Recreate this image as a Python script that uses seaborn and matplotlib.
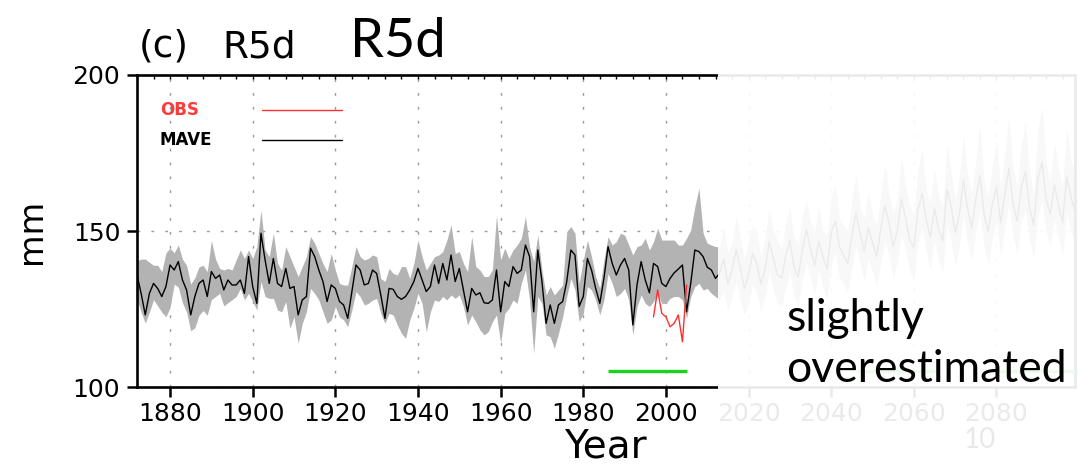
import numpy as np
import pandas as pd
import matplotlib
matplotlib.use("Agg")
import matplotlib.pyplot as plt
import matplotlib.transforms as mtransforms
from matplotlib.patches import Rectangle
from matplotlib.lines import Line2D
from matplotlib.ticker import MultipleLocator
import seaborn as sns

# ---------------------------------------------------------------- data
# Multi-model ensemble average (MAVE) of R5d [mm], 1872-2012, with ensemble range
hist_start = 1872
mave_hist = [
    135.9, 130.0, 123.1, 130.0, 133.2, 131.6, 129.0, 132.2, 139.1, 137.5,
    140.2, 134.3, 131.1, 123.1, 129.0, 133.2, 134.3, 129.0, 137.0, 134.8,
    135.9, 131.1, 134.3, 132.7, 132.7, 134.3, 130.0, 141.8, 132.2, 126.8,
    149.3, 140.7, 133.2, 141.2, 133.2, 132.2, 138.0, 131.6, 132.2, 123.1,
    127.9, 129.0, 144.5, 141.8, 137.5, 133.8, 127.4, 132.7, 131.6, 127.4,
    126.3, 122.0, 130.6, 139.1, 137.5, 132.7, 133.2, 137.5, 136.4, 129.5,
    122.0, 131.6, 131.3, 129.0, 128.1, 129.0, 131.1, 133.8, 138.0, 134.3,
    130.6, 132.2, 139.1, 133.2, 139.6, 134.3, 142.3, 133.8, 138.0, 131.1,
    124.1, 131.6, 129.5, 130.2, 127.0, 126.8, 127.9, 137.5, 124.1, 133.8,
    132.2, 138.6, 136.4, 137.5, 145.5, 141.8, 124.1, 143.9, 133.8, 120.4,
    126.3, 120.4, 126.3, 127.4, 133.8, 143.9, 142.3, 125.8, 129.0, 141.2,
    137.5, 131.6, 126.8, 134.8, 145.0, 139.6, 135.9, 139.1, 141.2, 137.5,
    119.9, 132.7, 140.2, 134.3, 130.2, 139.6, 138.6, 133.2, 132.2, 134.8,
    136.6, 137.8, 139.1, 124.1, 133.2, 143.9, 143.4, 141.8, 138.4, 137.5,
    134.8,
]
hi_hist = [
    140.5, 141.0, 141.0, 140.0, 139.0, 139.0, 137.0, 143.0, 144.5, 143.0,
    145.5, 141.0, 139.0, 133.0, 135.0, 138.5, 139.0, 137.0, 147.0, 141.0,
    138.0, 137.5, 138.0, 137.5, 140.7, 143.9, 141.2, 143.9, 141.2, 145.0,
    156.7, 143.9, 141.8, 149.3, 139.6, 137.5, 145.0, 141.8, 138.6, 135.4,
    138.6, 141.8, 148.2, 146.1, 142.8, 139.6, 137.0, 142.8, 137.5, 133.2,
    132.7, 132.7, 138.6, 145.0, 141.8, 140.7, 141.2, 142.3, 141.8, 134.8,
    133.8, 138.0, 136.4, 135.9, 138.6, 138.6, 134.8, 139.6, 147.1, 141.8,
    137.5, 139.6, 141.8, 142.3, 143.4, 147.1, 152.0, 142.8, 143.4, 139.6,
    137.0, 148.2, 138.6, 137.5, 135.4, 135.4, 137.5, 155.1, 140.7, 144.5,
    141.2, 143.9, 145.5, 147.7, 154.6, 145.0, 140.2, 148.7, 137.5, 129.5,
    132.2, 129.5, 131.1, 132.7, 149.8, 151.4, 149.3, 133.2, 140.7, 147.1,
    141.8, 135.4, 131.6, 140.7, 148.2, 145.5, 146.6, 149.3, 148.7, 145.5,
    142.3, 145.0, 145.5, 147.7, 143.9, 146.6, 150.9, 147.1, 147.1, 147.1,
    147.1, 145.5, 145.5, 147.7, 150.3, 157.8, 163.7, 149.3, 146.1, 145.5,
    145.0,
]
lo_hist = [
    128.0, 124.0, 120.5, 124.0, 128.0, 126.0, 124.0, 122.5, 125.5, 133.0,
    132.0, 127.0, 124.0, 118.0, 119.0, 123.0, 124.5, 123.0, 128.0, 129.0,
    130.0, 126.0, 127.0, 128.0, 129.0, 131.6, 127.9, 130.0, 127.4, 124.7,
    133.8, 129.0, 128.4, 128.4, 124.7, 124.1, 127.4, 118.8, 122.5, 114.0,
    120.4, 124.1, 131.6, 130.0, 127.9, 124.1, 120.4, 121.5, 125.8, 122.5,
    121.5, 119.3, 124.7, 130.6, 129.0, 126.3, 126.8, 127.9, 128.4, 123.6,
    120.4, 123.6, 123.1, 119.9, 117.2, 115.6, 121.5, 125.2, 130.0, 126.8,
    117.7, 124.1, 127.9, 127.4, 129.0, 127.9, 129.5, 128.4, 129.5, 125.8,
    119.9, 123.1, 120.9, 118.3, 116.7, 117.7, 120.9, 123.1, 114.0, 123.6,
    125.2, 127.9, 126.8, 133.2, 137.5, 127.9, 110.8, 129.0, 126.8, 116.7,
    116.1, 112.4, 117.2, 122.5, 129.0, 134.8, 131.1, 121.0, 123.6, 132.2,
    131.1, 127.9, 123.1, 127.9, 136.4, 133.2, 129.0, 130.0, 131.6, 127.9,
    116.7, 125.8, 129.5, 126.8, 125.8, 127.4, 130.0, 126.8, 126.8, 128.4,
    129.0, 129.0, 127.9, 122.0, 129.0, 132.2, 133.2, 131.1, 131.6, 130.0,
    129.0,
]

# Projection 2013-2099 (shown greyed out)
mave_proj = [
    136.5, 141.0, 133.0, 137.5, 144.0, 138.2, 131.5, 136.0, 142.8, 139.5,
    133.0, 137.8, 146.5, 141.2, 136.0, 134.8, 142.1, 147.0, 138.3, 135.2,
    143.8, 150.5, 144.2, 139.0, 146.8, 141.5, 137.9, 149.6, 153.2, 145.0,
    142.1, 139.6, 148.4, 155.8, 149.2, 143.5, 151.0, 146.3, 141.8, 150.7,
    158.2, 152.4, 145.1, 149.8, 160.3, 154.1, 147.2, 144.5, 156.8, 162.0,
    153.5, 148.0, 157.2, 150.6, 146.9, 163.4, 158.1, 149.5, 155.0, 166.2,
    157.3, 151.0, 160.4, 167.8, 155.2, 149.9, 158.6, 164.1, 152.7, 161.5,
    170.2, 158.9, 153.1, 163.8, 169.0, 157.6, 151.8, 166.5, 172.0, 160.2,
    155.4, 164.7, 158.2, 152.9, 167.3, 161.0, 156.2,
]
hi_proj = [
    145, 151, 143, 146, 155, 148, 141, 147, 152, 150,
    142, 148, 157, 150, 147, 144, 153, 158, 148, 146,
    155, 160, 153, 150, 158, 150, 149, 161, 165, 154,
    152, 150, 160, 168, 158, 154, 163, 155, 152, 162,
    171, 162, 156, 160, 174, 165, 158, 155, 170, 176,
    163, 159, 170, 161, 158, 178, 169, 160, 167, 181,
    168, 162, 173, 184, 166, 161, 171, 179, 163, 175,
    187, 170, 164, 178, 185, 169, 162, 182, 190, 172,
    166, 179, 170, 164, 183, 173, 168,
]
lo_proj = [
    128, 131, 124, 129, 134, 128, 123, 127, 133, 130,
    124, 129, 137, 131, 127, 126, 132, 137, 129, 126,
    134, 140, 135, 130, 137, 132, 128, 139, 143, 135,
    133, 130, 138, 145, 139, 134, 141, 137, 132, 140,
    147, 142, 135, 140, 149, 144, 137, 134, 146, 151,
    143, 138, 147, 140, 137, 152, 147, 139, 145, 155,
    146, 141, 150, 156, 145, 139, 148, 153, 142, 151,
    159, 148, 143, 153, 157, 147, 141, 155, 160, 150,
    145, 154, 148, 142, 156, 150, 146,
]

# Observations (OBS)
obs_years = [1997, 1998, 1999, 2000, 2001, 2002, 2003, 2004, 2005]
obs_vals = [122.5, 131.1, 123.6, 122.5, 119.3, 120.4, 123.1, 114.5, 132.7]

# Evaluation periods marked near the bottom of the panel
period_starts = [1986, 2046, 2080]
period_ends = [2005, 2065, 2099]
period_level = 105

# ---------------------------------------------------------------- frame
years = np.arange(hist_start, hist_start + len(mave_hist) + len(mave_proj))
df = pd.DataFrame({
    "year": years,
    "mave": mave_hist + mave_proj,
    "lo": lo_hist + lo_proj,
    "hi": hi_hist + hi_proj,
})
obs = pd.DataFrame({"year": obs_years, "value": obs_vals})

sns.set_style("white")
plt.rcParams["font.family"] = ["DejaVu Sans"]
plt.rcParams["text.color"] = "black"
plt.rcParams["axes.labelcolor"] = "black"
plt.rcParams["xtick.color"] = "black"
plt.rcParams["ytick.color"] = "black"
humanist = ["Lato", "DejaVu Sans"]

W, H = 1082, 469
fig = plt.figure(figsize=(W / 100, H / 100), dpi=100)
ax = fig.add_axes([137 / W, (H - 387) / H, 938 / W, 312 / H])

# ensemble range and mean
ax.fill_between(df["year"], df["lo"], df["hi"], color="#b3b3b3", lw=0, zorder=2)
sns.lineplot(data=df, x="year", y="mave", color="black", lw=1.0, ax=ax, zorder=3)
sns.lineplot(data=obs, x="year", y="value", color="#ff3030", lw=1.0, ax=ax, zorder=4)
for s, e in zip(period_starts, period_ends):
    ax.plot([s, e], [period_level, period_level], color="#19d419", lw=2.4,
            solid_capstyle="butt", zorder=4)

# axes, ticks, grid
ax.set_xlim(1872, 2099)
ax.set_ylim(100, 200)
ax.set_xticks(range(1880, 2100, 20))
ax.set_yticks([100, 150, 200])
ax.xaxis.set_minor_locator(MultipleLocator(4))
ax.xaxis.remove_overlapping_locs = False
ax.tick_params(axis="x", which="major", bottom=True, top=False, direction="out",
               length=7, width=1.8, pad=4, labelsize=18)
ax.tick_params(axis="x", which="minor", bottom=False, top=True, direction="in",
               length=3, width=1.0)
ax.tick_params(axis="y", which="major", left=True, right=False, direction="out",
               length=7, width=1.8, pad=5, labelsize=18)
for sp in ax.spines.values():
    sp.set_color("black")
    sp.set_linewidth(1.9)
ax.grid(True, which="major", color="#9a9a9a", lw=1.0, ls=(0, (2, 8)))
ax.set_axisbelow(True)

ax.set_xlabel("Year", fontsize=28, va="baseline")
ax.xaxis.set_label_coords(0.499, -0.226)
ax.set_ylabel("mm", fontsize=24, va="center")
ax.yaxis.set_label_coords(-0.113, 0.5)

# legend keys (label left, line right)
ax.text(0.0245, 0.888, "OBS", color="#ff3a3a", fontsize=12, fontweight="bold",
        va="center", ha="left", transform=ax.transAxes)
ax.text(0.0245, 0.793, "MAVE", color="black", fontsize=12, fontweight="bold",
        va="center", ha="left", transform=ax.transAxes)
ax.add_line(Line2D([0.133, 0.2186], [0.888, 0.888], color="#ff3030", lw=1.0,
                   transform=ax.transAxes))
ax.add_line(Line2D([0.133, 0.2186], [0.793, 0.793], color="black", lw=1.0,
                   transform=ax.transAxes))


# panel title
def fx(x):
    return x / W


def fy(y):
    return 1 - y / H


fig.text(fx(139), fy(57), "(c)", fontsize=27, va="baseline", ha="left")
fig.text(fx(222), fy(57), "R5d", fontsize=27, va="baseline", ha="left")
fig.text(fx(350), fy(57), "R5d", fontsize=39, va="baseline", ha="left",
         family=humanist)

# projection period greyed out
blend = mtransforms.blended_transform_factory(ax.transData, fig.transFigure)
veil = Rectangle((2012.6, 0), 200, fy(70), transform=blend, facecolor="white",
                 edgecolor="none", alpha=0.92, zorder=5, clip_on=False)
fig.add_artist(veil)

fig.text(fx(980), fy(448), "10", fontsize=20, color="#e8e8e8", ha="center",
         va="baseline", family=humanist, zorder=6)
fig.text(fx(786), fy(331), "slightly", fontsize=32, va="baseline", ha="left",
         family=humanist, zorder=6)
fig.text(fx(786), fy(382), "overestimated", fontsize=32, va="baseline", ha="left",
         family=humanist, zorder=6)

fig.savefig("out.png", dpi=100)
